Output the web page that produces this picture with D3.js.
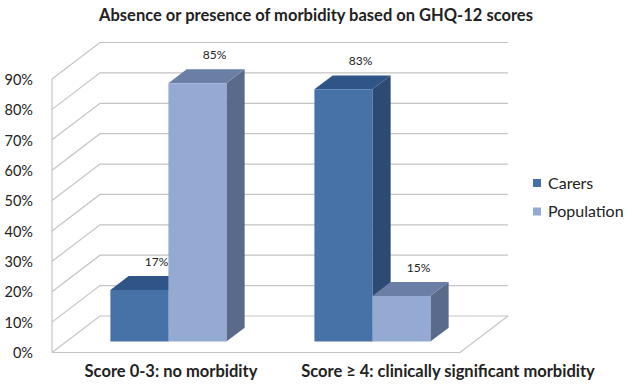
<!DOCTYPE html>
<html>
<head>
<meta charset="utf-8">
<script src="https://cdn.jsdelivr.net/npm/d3@7"></script>
<style>
  body { margin: 0; background: #fff; }
  text { font-family: Lato, "Open Sans", sans-serif; fill: #222; }
</style>
</head>
<body>
<div id="chart-area"></div>
<script>
// data
var categories = ["Score 0-3: no morbidity", "Score \u2265 4: clinically significant morbidity"];
var series = ["Carers", "Population"];
var carers = [0.17, 0.83];
var population = [0.85, 0.15];
var yTicks = [0, 0.1, 0.2, 0.3, 0.4, 0.5, 0.6, 0.7, 0.8, 0.9];

var width = 632, height = 390;

var svg = d3.select("#chart-area").append("svg")
    .attr("width", width)
    .attr("height", height);

// depth of the 3d box (offset of back wall from front plane)
var DX = 48, DY = -36.5;
var barZ0 = 0.3, barZ1 = 0.68;

var y = d3.scaleLinear().domain([0, 0.9]).range([352.5, 79]);
var x = d3.scaleBand().domain(categories).range([52, 460]);
var xs = d3.scaleBand().domain(series).range([44, 160]);
var color = d3.scaleOrdinal().domain(series).range(["#4672a8", "#95aad3"]);
var topColor = d3.scaleOrdinal().domain(series).range(["#2f5486", "#6b7fa6"]);
var sideColor = d3.scaleOrdinal().domain(series).range(["#2d4a73", "#5a6a8b"]);

function P(px, v, z) {
    return [px + z * DX, y(v) + z * DY];
}
function pts(a) { return a.map(function(p) { return p.join(","); }).join(" "); }

var x0 = x.range()[0], x1 = x.range()[1];

// walls
var grid = svg.append("g").attr("stroke", "#c4c4c4").attr("stroke-width", 1.2).attr("fill", "none");
yTicks.forEach(function(t) {
    grid.append("polyline").attr("points", pts([P(x0, t, 0), P(x0, t, 1), P(x1, t, 1)]));
});
grid.append("line")
    .attr("x1", x0).attr("y1", y(0)).attr("x2", x0).attr("y2", y(0.9));
grid.append("polyline").attr("points", pts([P(x0, 0, 0), P(x1, 0, 0), P(x1, 0, 1)]));

// y axis labels on the front plane
var yAxis = svg.append("g")
    .attr("transform", "translate(" + (x0 - 19) + ",0)")
    .call(d3.axisLeft(y).tickValues(yTicks).tickFormat(d3.format(".0%")).tickSize(0));
yAxis.select(".domain").remove();
yAxis.selectAll("text")
    .attr("x", 0)
    .attr("dy", "0.36em")
    .style("font-family", "Lato, sans-serif")
    .style("font-size", "14.5px")
    .attr("fill", "#222");

// bars
var bars = [];
categories.forEach(function(c, i) {
    bars.push({ cat: c, s: "Carers", v: carers[i] });
    bars.push({ cat: c, s: "Population", v: population[i] });
});

var bar = svg.selectAll(".bar").data(bars).enter().append("g").attr("class", "bar");

bar.each(function(d) {
    var g = d3.select(this);
    var l = x(d.cat) + xs(d.s), r = l + xs.bandwidth();
    g.append("polygon")
        .attr("points", pts([P(r, d.v, barZ0), P(r, 0, barZ0), P(r, 0, barZ1), P(r, d.v, barZ1)]))
        .attr("fill", sideColor(d.s));
    g.append("polygon")
        .attr("points", pts([P(l, d.v, barZ0), P(r, d.v, barZ0), P(r, d.v, barZ1), P(l, d.v, barZ1)]))
        .attr("fill", topColor(d.s));
    g.append("polygon")
        .attr("points", pts([P(l, d.v, barZ0), P(r, d.v, barZ0), P(r, 0, barZ0), P(l, 0, barZ0)]))
        .attr("fill", color(d.s));
    var top = P(l + xs.bandwidth() / 2, d.v, barZ1);
    g.append("text")
        .attr("x", top[0] - 1)
        .attr("y", top[1] - 10)
        .attr("text-anchor", "middle")
        .attr("font-size", "12px")
        .attr("fill", "#333")
        .text(Math.round(d.v * 100) + "%");
});

// category labels
var labelShift = [3, 76];
svg.selectAll(".cat").data(categories).enter().append("text")
    .attr("class", "cat")
    .attr("x", function(d, i) { return x(d) + 14 + x.bandwidth() / 2 + labelShift[i]; })
    .attr("y", 377)
    .attr("text-anchor", "middle")
    .attr("font-size", "16.5px")
    .attr("font-weight", "bold")
    .text(function(d) { return d; });

// title
svg.append("text")
    .attr("x", 316)
    .attr("y", 21)
    .attr("text-anchor", "middle")
    .attr("font-size", "16.5px")
    .attr("font-weight", "bold")
    .text("Absence or presence of morbidity based on GHQ-12 scores");

// legend
var legend = svg.selectAll(".legend").data(series).enter().append("g")
    .attr("class", "legend")
    .attr("transform", function(d, i) { return "translate(533," + (179 + i * 28.5) + ")"; });
legend.append("rect")
    .attr("width", 8).attr("height", 8)
    .attr("fill", function(d) { return color(d); });
legend.append("text")
    .attr("x", 15)
    .attr("y", 9.5)
    .attr("font-size", "16px")
    .text(function(d) { return d; });
</script>
</body>
</html>
